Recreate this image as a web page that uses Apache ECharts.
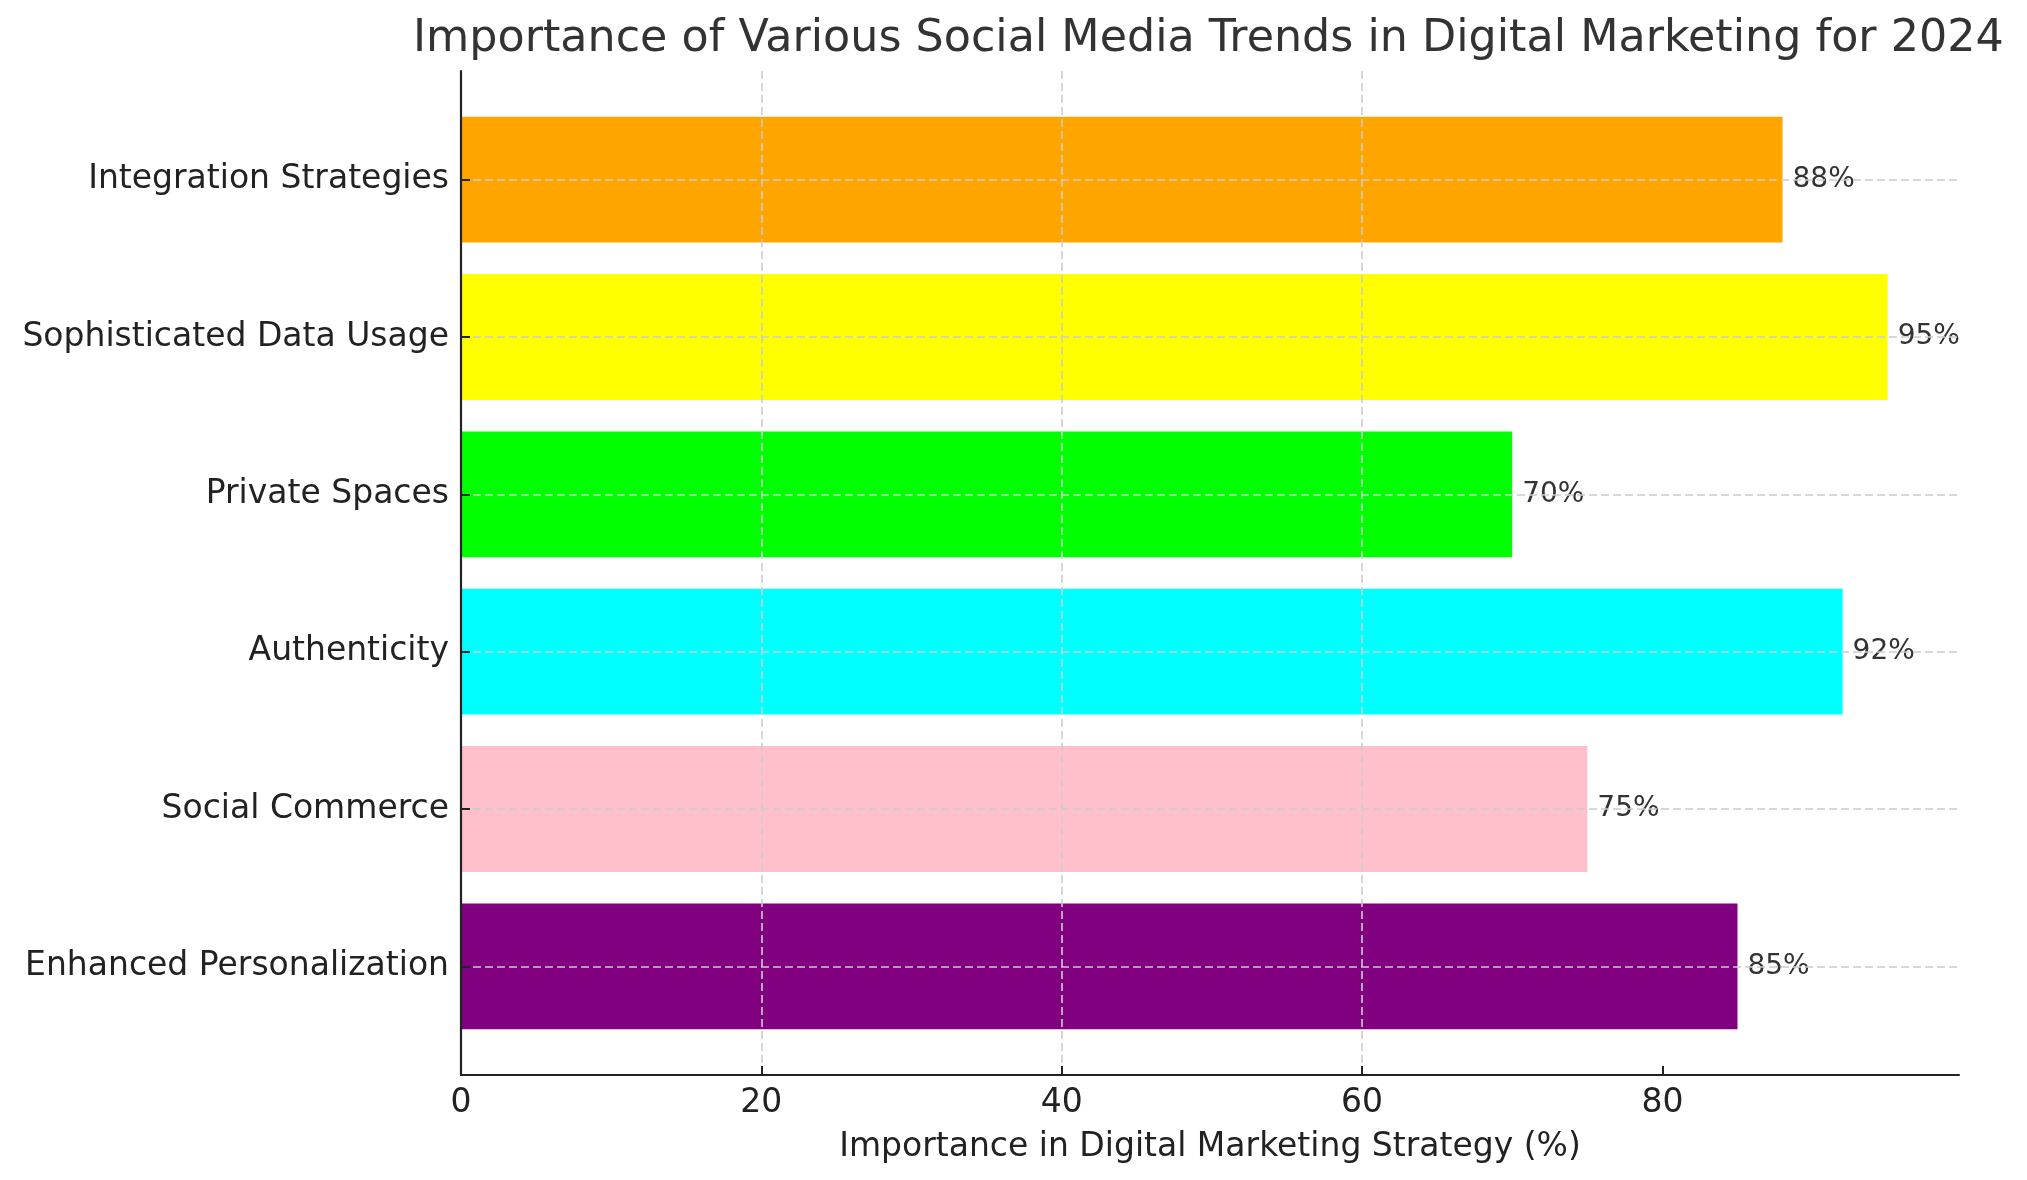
<!DOCTYPE html>
<html>
<head>
<meta charset="utf-8">
<script src="https://cdn.jsdelivr.net/npm/echarts@6/dist/echarts.min.js"></script>
<style>
	html, body { margin: 0; padding: 0; background: #fff; }
	#chart { width: 2027px; height: 1180px; }
</style>
</head>
<body>
<div id="chart"></div>
<script>
// data, bottom to top like the original
var categories = ['Enhanced Personalization', 'Social Commerce', 'Authenticity', 'Private Spaces', 'Sophisticated Data Usage', 'Integration Strategies'];
var values = [85, 75, 92, 70, 95, 88];
var colors = ['#800080', '#FFC0CB', '#00FFFF', '#00FF00', '#FFFF00', '#FFA500'];
var xTicks = [0, 20, 40, 60, 80];

var titleText = 'Importance of Various Social Media Trends in Digital Marketing for 2024';
var xName = 'Importance in Digital Marketing Strategy (%)';

var font = 'DejaVu Sans';
var xMax = 99.75;

// plot frame (grid 0) and the bars grid (grid 1), inset so the bands match
var plotLeft = 461, plotRight = 68, plotTop = 71, plotBottom = 105;
var inset = 30;

var gridColor = '#cccccc';

const myChart = echarts.init(document.getElementById('chart'));

var barData = values.map(function (v, i) {
	return { value: v, itemStyle: { color: colors[i] } };
});

var option = {
	animation: false,
	backgroundColor: '#ffffff',
	textStyle: { fontFamily: font },
	graphic: [{
		type: 'text',
		left: 413,
		top: 17,
		style: { text: titleText, fontFamily: font, fontSize: 44.4, fill: '#333333' }
	}],
	grid: [
		{ left: plotLeft, right: plotRight, top: plotTop, bottom: plotBottom },
		{ left: plotLeft, right: plotRight, top: plotTop + inset, bottom: plotBottom + inset }
	],
	xAxis: [{
		gridIndex: 0,
		type: 'value',
		min: 0,
		max: xMax,
		interval: 20,
		z: 10,
		name: xName,
		nameLocation: 'middle',
		nameGap: 56,
		nameTextStyle: { fontFamily: font, fontSize: 33, color: '#222222' },
		axisLine: { show: true, lineStyle: { color: '#222222', width: 2.2 } },
		axisTick: { show: true, inside: true, length: 9, customValues: xTicks, lineStyle: { color: '#222222', width: 2 } },
		axisLabel: { fontFamily: font, fontSize: 33, color: '#222222', margin: 12, customValues: xTicks },
		splitLine: { show: true, showMinLine: false, showMaxLine: false, lineStyle: { color: gridColor, type: [8, 4], width: 1.6 } }
	}, {
		gridIndex: 1,
		type: 'value',
		min: 0,
		max: xMax,
		show: false
	}],
	yAxis: [{
		gridIndex: 0,
		type: 'value',
		min: 0,
		max: 1,
		z: 10,
		axisLine: { show: true, lineStyle: { color: '#222222', width: 2.2 } },
		axisTick: { show: false },
		axisLabel: { show: false },
		splitLine: { show: false }
	}, {
		gridIndex: 1,
		type: 'category',
		data: categories,
		z: 10,
		axisLine: { show: false },
		axisTick: { show: true, inside: true, alignWithLabel: true, length: 9, lineStyle: { color: '#222222', width: 2 } },
		axisLabel: { fontFamily: font, fontSize: 33, color: '#222222', margin: 12 },
		splitLine: { show: false }
	}],
	series: [{
		type: 'bar',
		xAxisIndex: 1,
		yAxisIndex: 1,
		data: barData,
		barWidth: '80%',
		label: {
			show: true,
			position: 'right',
			distance: 10,
			formatter: '{c}%',
			fontFamily: font,
			fontSize: 28,
			color: '#333333'
		},
		markLine: {
			silent: true,
			symbol: 'none',
			label: { show: false },
			lineStyle: { color: gridColor, type: [8, 4], width: 1.6 },
			data: categories.map(function (c) { return { yAxis: c }; })
		}
	}]
};

myChart.setOption(option);
</script>
</body>
</html>
